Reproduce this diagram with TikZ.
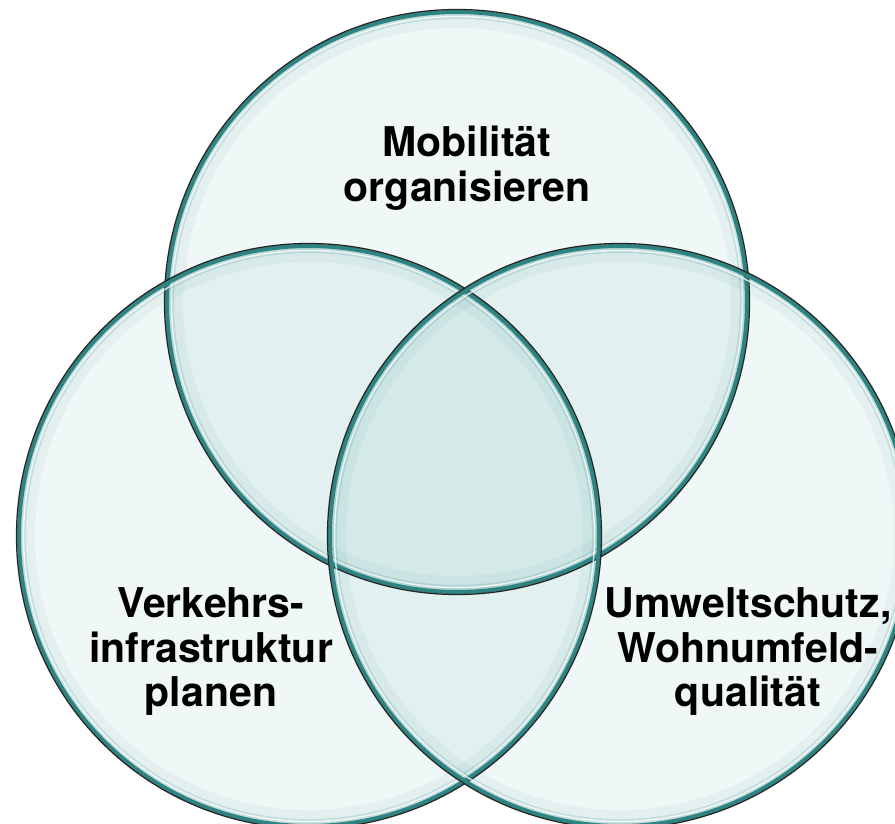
\documentclass[tikz,border=0pt]{standalone}
\usepackage{fontspec}
\setmainfont{TeX Gyre Heros}
\definecolor{glass}{HTML}{3A9A98}
\definecolor{rim}{HTML}{2E8482}
\tikzset{
	lens/.style={circle,inner sep=0pt,minimum size=586pt,fill=glass,fill opacity=0.08},
	caption/.style={font=\bfseries\fontsize{41}{44.5}\selectfont,align=center,text=black}
}

\begin{document}
\begin{tikzpicture}[x=1pt,y=-1pt]
	\useasboundingbox (0,0) rectangle (895,824);
	\clip (0,0) rectangle (895,824);
	\node [lens] (mob) at (457,302) {};
	\node [lens] (infra) at (309,536) {};
	\node [lens] (umwelt) at (620,536) {};

	% glassy rims
	\foreach \c in {mob,infra,umwelt} {
		\draw [rim,line width=18pt,opacity=0.06] (\c.center) circle (283);
		\draw [rim,line width=8pt,opacity=0.18] (\c.center) circle (287);
		\draw [rim,line width=4pt] (\c.center) circle (290);
		\draw [white,line width=1.5pt,opacity=0.75] (\c.center) circle (285.5);
		\draw [black!85,line width=1.3pt] (\c.center) circle (292.5);
	}

	\node [caption] (mobtext) at (467,168) {Mobilität\\organisieren};
	\node [caption] (infratext) at (211,652) {Verkehrs-\\infrastruktur\\planen};
	\node [caption] (umwelttext) at (748,652) {Umweltschutz,\\Wohnumfeld-\\qualität};
\end{tikzpicture}
\end{document}
